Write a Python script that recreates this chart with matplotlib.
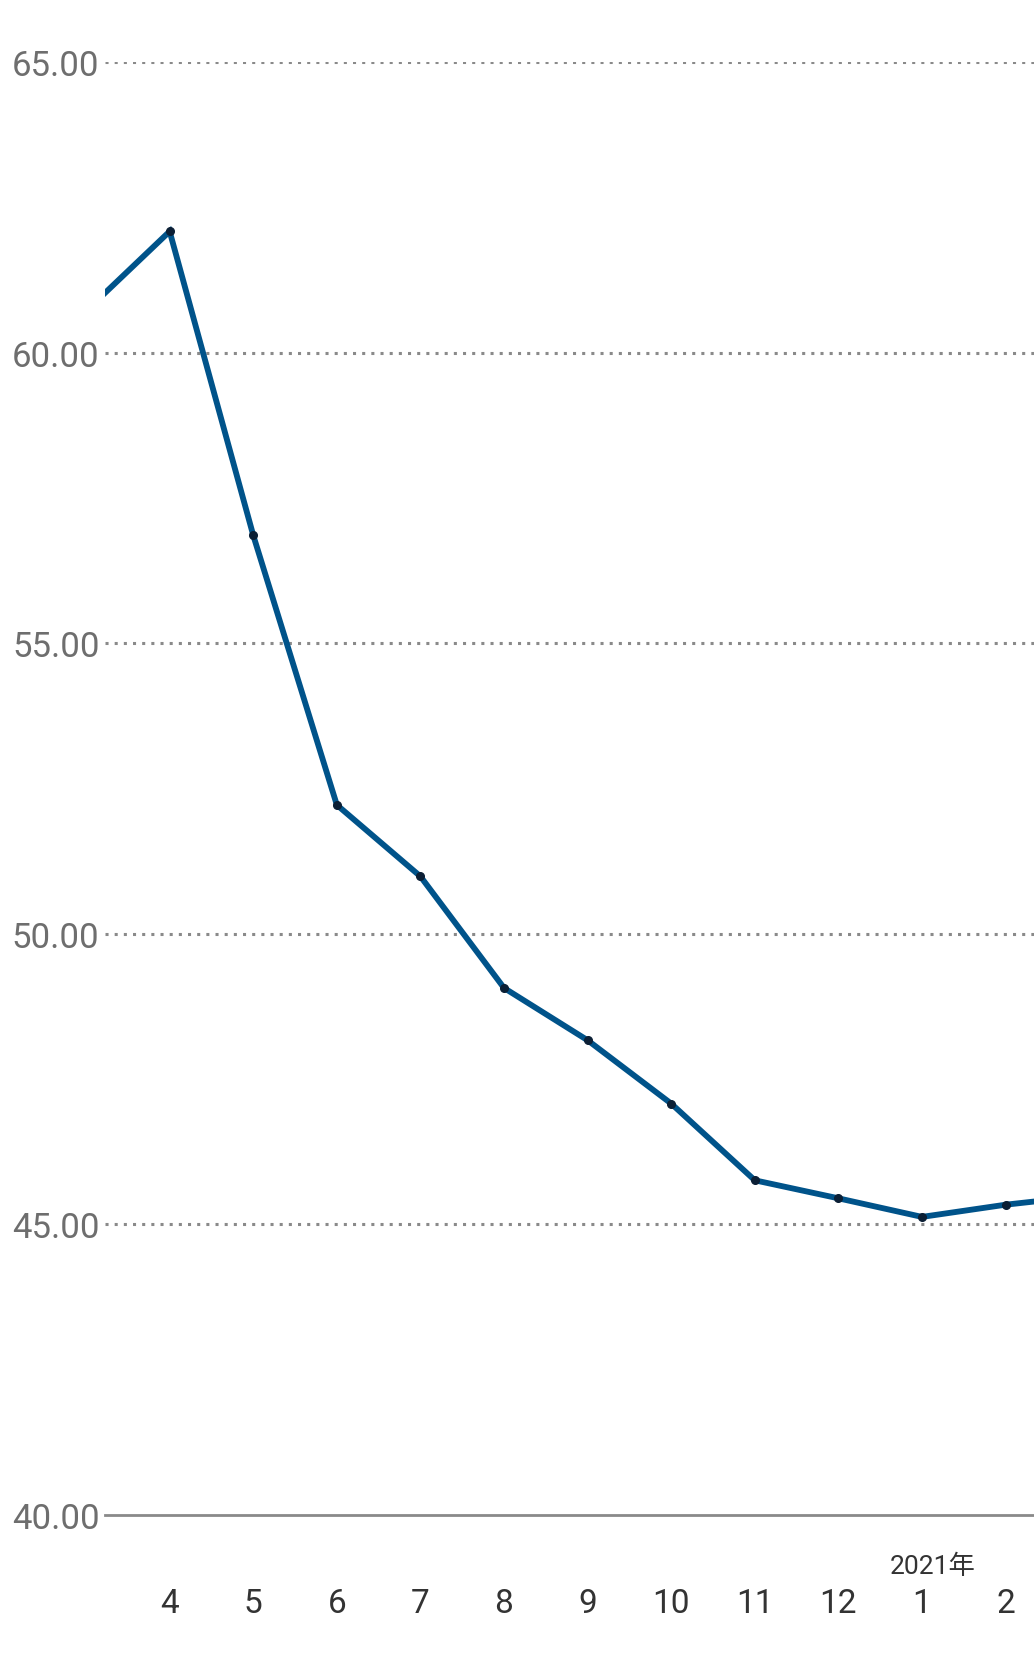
import matplotlib
matplotlib.use("Agg")
import matplotlib.pyplot as plt

# months shown (3/2020 and 3/2021 sit just outside the visible window)
months = ["3", "4", "5", "6", "7", "8", "9", "10", "11", "12", "1", "2", "3"]
values = [60.72, 62.09, 56.86, 52.22, 50.99, 49.07, 48.17, 47.08, 45.76, 45.45, 45.13, 45.34, 45.50]
yticks = [40, 45, 50, 55, 60, 65]
year_label = "2021年"
year_pos = 10

plt.rcParams['font.family'] = ['Roboto', 'Noto Sans CJK JP', 'DejaVu Sans']

fig = plt.figure(figsize=(10.34, 16.65), dpi=100)
ax = fig.add_axes([0.1015, 1 - 1516 / 1665, 1 - 0.1015, (1516 - 63.3) / 1665])

xs = list(range(len(values)))
ax.plot(xs, values, color="#00538a", linewidth=4.2, solid_joinstyle="miter", zorder=3)
ax.plot(xs[1:-1], values[1:-1], linestyle="none", marker="o", markersize=5.5,
        color="#0b1f35", zorder=4)

# dotted grid
for y in yticks[1:]:
    ax.axhline(y, color="#8a8a8a", linewidth=2.2, linestyle=(0, (1.0, 2.0)), zorder=1)

for s in ["top", "right", "left"]:
    ax.spines[s].set_visible(False)
ax.spines["bottom"].set_color("#8a8a8a")
ax.spines["bottom"].set_linewidth(2)

ax.set_yticks(yticks)
ax.set_yticklabels(["%.2f" % y for y in yticks], fontsize=25, color="#6e6e6e")
ax.tick_params(axis="y", length=0, pad=4)

ax.set_xticks([])
xmin, xmax = 0.226, 11.34
ax.set_xlim(xmin, xmax)
ax.set_ylim(40, 65)

for x, m in zip(xs, months):
    if xmin < x < xmax:
        ax.text(x, -0.0606, m, transform=ax.get_xaxis_transform(), ha="center", va="center",
                fontsize=24, color="#333333", clip_on=False)
ax.text(year_pos + 0.13, -0.0351, year_label, transform=ax.get_xaxis_transform(),
        ha="center", va="center", fontsize=19, color="#333333")

fig.savefig("out.png", dpi=100)
